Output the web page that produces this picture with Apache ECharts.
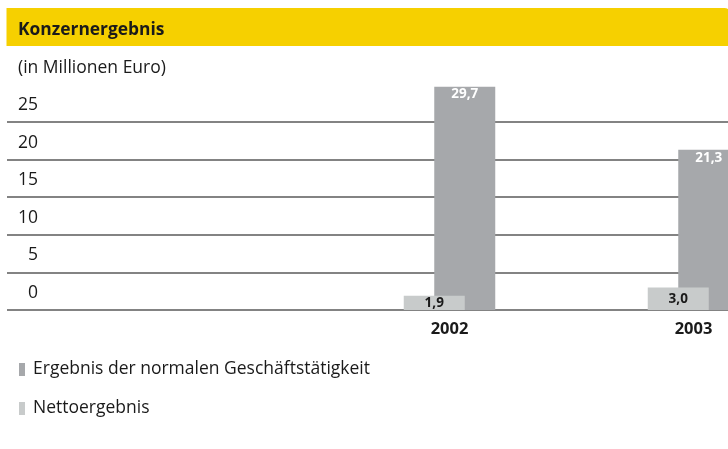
<!DOCTYPE html>
<html>
<head>
<meta charset="utf-8">
<script src="https://cdn.jsdelivr.net/npm/echarts@6/dist/echarts.min.js"></script>
<style>
  html, body { margin: 0; padding: 0; background: #fff; }
  #chart { width: 728px; height: 449px; }
</style>
</head>
<body>
<div id="chart"></div>
<script>
// Daten
const categories = ['', '2002', '2003'];
const ergebnisNormal = [null, 29.7, 21.3];
const nettoergebnis = [null, 1.9, 3.0];
const yTicks = { min: 0, max: 25, interval: 5 };

const seriesNames = ['Ergebnis der normalen Geschäftstätigkeit', 'Nettoergebnis'];
const fontFamily = '"Open Sans", sans-serif';
const fmt = (v) => String(v.toFixed(1)).replace('.', ',');

const chart = echarts.init(document.getElementById('chart'));

chart.setOption({
  animation: false,
  textStyle: { fontFamily: fontFamily },
  graphic: [
    {
      type: 'rect',
      z: -1,
      shape: { x: 6.5, y: 8, width: 724, height: 38, r: [0, 6, 0, 0] },
      style: { fill: '#f6d000' }
    }
  ],
  title: [
    {
      text: 'Konzernergebnis',
      left: 18,
      top: 20,
      padding: 0,
      textStyle: { fontSize: 17.4, fontWeight: 'bold', color: '#1a1a1a', lineHeight: 20, fontFamily: fontFamily }
    },
    {
      text: '(in Millionen Euro)',
      left: 18,
      top: 58,
      padding: 0,
      textStyle: { fontSize: 17.5, fontWeight: 'normal', color: '#1a1a1a', lineHeight: 20, fontFamily: fontFamily }
    }
  ],
  legend: {
    orient: 'vertical',
    left: 19,
    top: 359.5,
    padding: 0,
    itemWidth: 6,
    itemHeight: 13,
    itemGap: 19,
    icon: 'rect',
    data: seriesNames,
    textStyle: { fontSize: 17.5, color: '#1a1a1a', lineHeight: 20, padding: [0, 0, 0, 3] }
  },
  grid: [
    // Raster mit Beschriftung der Werteachse
    { left: 7, right: 0, top: 122, bottom: 139, outerBoundsMode: 'none' },
    // Raster fuer die Balken (ragt rechts aus dem Bild)
    { left: 83.5, width: 732, top: 122, bottom: 139, outerBoundsMode: 'none' }
  ],
  xAxis: [
    { type: 'category', gridIndex: 0, data: categories, show: false },
    {
      type: 'category',
      gridIndex: 1,
      data: categories,
      axisLine: { show: false },
      axisTick: { show: false },
      axisLabel: { fontSize: 16.5, fontWeight: 'bold', color: '#1a1a1a', margin: 11, hideOverlap: false }
    }
  ],
  yAxis: [
    {
      type: 'value',
      gridIndex: 0,
      min: yTicks.min,
      max: yTicks.max,
      interval: yTicks.interval,
      axisLine: { show: false },
      axisTick: { show: false },
      splitLine: { lineStyle: { color: '#5a5a5a', width: 1.5 } },
      axisLabel: {
        inside: true,
        align: 'right',
        margin: 31,
        verticalAlign: 'bottom',
        lineHeight: 18,
        padding: [0, 0, 8, 0],
        fontSize: 17.5,
        color: '#1a1a1a'
      }
    },
    {
      type: 'value',
      gridIndex: 1,
      min: yTicks.min,
      max: yTicks.max,
      interval: yTicks.interval,
      show: false,
      splitLine: { show: false }
    }
  ],
  series: [
    {
      name: seriesNames[1],
      type: 'bar',
      xAxisIndex: 1,
      yAxisIndex: 1,
      data: nettoergebnis,
      barWidth: 61,
      barGap: '-50%',
      z: 3,
      clip: false,
      itemStyle: { color: '#c8cbcb' },
      label: {
        show: true,
        position: 'inside',
        fontSize: 13.5,
        fontWeight: 'bold',
        color: '#1a1a1a',
        formatter: (p) => fmt(p.value)
      }
    },
    {
      name: seriesNames[0],
      type: 'bar',
      xAxisIndex: 1,
      yAxisIndex: 1,
      data: ergebnisNormal,
      barWidth: 61,
      barGap: '-50%',
      z: 2,
      clip: false,
      itemStyle: { color: '#a6a8ab' },
      label: {
        show: true,
        position: 'insideTop',
        distance: 1,
        fontSize: 13.5,
        fontWeight: 'bold',
        color: '#ffffff',
        formatter: (p) => fmt(p.value)
      }
    }
  ]
});
</script>
</body>
</html>
